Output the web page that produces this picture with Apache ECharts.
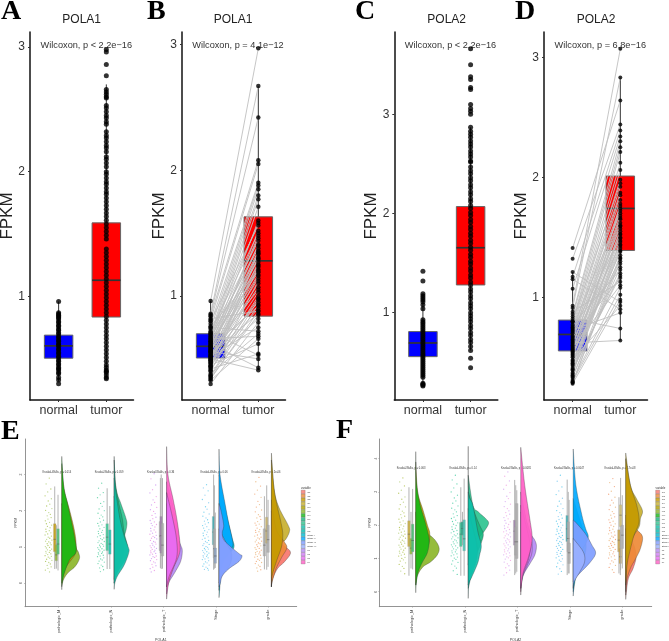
<!DOCTYPE html>
<html><head><meta charset="utf-8">
<style>html,body{margin:0;padding:0;background:#fff}#c{width:669px;height:641px}</style>
<script src="https://cdn.jsdelivr.net/npm/echarts@6/dist/echarts.min.js"></script>
</head><body><div id="c"></div>
<script>
const SANS='"Liberation Sans",Arial,sans-serif', SERIF='"Liberation Serif",serif';
const categories=['normal','tumor'];
const variables=['pathologic_M','pathologic_N','pathologic_T','Stage','grade'];
const levels=['G1','G2','G3','G4','M0','M1','MX','N0','N1','N2','N3','Stage I','Stage II','Stage III','Stage IV','T1','T2','T3','T4'];
const levelColors=['#F8766D','#EE8A37','#C49A00','#C8B030','#AFA100','#8CB62A','#16B816','#17B57E','#2EC490','#0FC0AA','#00BDB0','#00BBD0','#00A9FF','#7F9DFF','#9AB0FF','#B58BF5','#D07CF5','#E76BF3','#FF5FC6'];

// Panel A
const aNormalBox=[1,.32,.505,.604,.69,.96], aTumorBox=[2,.35,.835,1.13,1.59,2.7];
const aNormal=[.96,.87,.86,.85,.84,.83,.82,.8,.79,.77,.76,.74,.73,.71,.7,.68,.67,.65,.64,.62,.61,.6,.58,.57,.55,.54,.52,.51,.49,.48,.46,.45,.43,.42,.41,.39,.38,.35,.33,.3];
const aTumor=[2.98,2.96,2.86,2.77,2.66,2.64,2.62,2.6,2.59,2.53,2.51,2.48,2.45,2.43,2.4,2.38,2.32,2.29,2.27,2.24,2.21,2.19,2.16,2.12,2.1,2.07,2.04,2,1.98,1.95,1.92,1.9,1.87,1.84,1.82,1.79,1.76,1.73,1.7,1.67,1.64,1.61,1.58,1.55,1.52,1.49,1.46,1.38,1.35,1.32,1.29,1.26,1.23,1.2,1.17,1.14,1.11,1.08,1.05,1.02,.99,.96,.93,.9,.87,.84,.81,.78,.75,.72,.69,.66,.63,.6,.57,.54,.51,.48,.45,.43,.41,.4,.39,.37,.35,.34];
// Panel B
const bNormalBox=[1,.32,.507,.6,.7,.96], bTumorBox=[2,.41,.84,1.28,1.63,2.67];
const bNormal=[.96,.86,.85,.84,.82,.81,.8,.78,.76,.75,.74,.72,.71,.7,.69,.68,.67,.66,.65,.64,.63,.62,.61,.6,.6,.59,.58,.57,.56,.56,.55,.54,.53,.52,.52,.51,.5,.5,.49,.48,.47,.46,.45,.44,.43,.42,.4,.38,.36,.35,.33,.3,.7,.66,.64,.62,.6,.58,.57,.55,.53,.51,.49,.47,.44,.41,.37,.34];
const bTumor=[2.97,2.67,2.42,2.08,.88,2.05,1.56,1.9,1.2,.72,1.88,1.5,.53,1.85,1.44,1.8,1.38,.68,1.77,1.33,1.71,.43,1.29,1.25,1.6,.92,1.48,1.21,.5,1.17,1.41,.86,1.14,1.35,.75,1.1,1.07,.41,1.31,.82,1.03,1.27,.62,.98,1.23,.54,1.12,.7,.93,.85,.66,.79,1.58,1.4,1.19,1.46,1.3,1.36,1.05,1.52,.95,1.24,1.16,.9,1.34,1,.97,.88];
// Panel C
const cNormalBox=[1,.27,.557,.695,.81,1.19], cTumorBox=[2,.62,1.28,1.655,2.07,2.87];
const cNormal=[1.417,1.32,1.19,1.17,1.15,1.13,1.11,1.08,1.04,.93,.91,.89,.87,.85,.83,.81,.79,.77,.75,.73,.71,.69,.67,.65,.63,.61,.59,.57,.55,.53,.51,.49,.47,.45,.43,.41,.39,.37,.35,.29,.28,.27,.26];
const cTumor=[3.66,3.5,3.38,3.35,3.27,3.25,3.1,3.06,3.03,3,2.87,2.83,2.8,2.77,2.73,2.7,2.67,2.63,2.6,2.57,2.53,2.52,2.47,2.43,2.4,2.36,2.33,2.29,2.26,2.22,2.19,2.15,2.12,2.08,2.05,2.01,1.98,1.94,1.91,1.87,1.84,1.8,1.77,1.73,1.7,1.66,1.63,1.59,1.56,1.52,1.49,1.45,1.42,1.38,1.35,1.31,1.28,1.24,1.21,1.17,1.14,1.1,1.07,1.04,1,.97,.94,.91,.87,.84,.8,.77,.73,.7,.66,.62,.54,.445];
// Panel D
const dNormalBox=[1,.28,.553,.69,.81,1.21], dTumorBox=[2,.64,1.39,1.74,2.01,2.83];
const dNormal=[1.41,1.32,1.21,1.17,1.15,1.07,.93,.91,.88,.86,.84,.82,.8,.79,.77,.76,.74,.73,.71,.7,.68,.67,.65,.64,.62,.61,.6,.58,.57,.56,.55,.53,.52,.5,.48,.47,.45,.43,.41,.39,.37,.35,.33,.3,.29,.28,.8,.75,.72,.66,.63,.59,.56,.54,.51,.46,.44,.4,.36,.34,.31,.29];
const dTumor=[2.64,2.44,.96,2.39,.9,2.34,3.07,2.83,1.13,2.3,2.25,.74,2.21,2.12,1.23,2.06,1.98,.87,1.92,1.87,1.81,1.16,1.76,1.72,.64,1.68,1.66,1.1,1.62,1.59,1.55,1.32,1.52,1.49,.93,1.46,1.43,1.41,1.39,1.2,1.57,1.78,1.35,1.02,1.3,.98,1.95,1.7,1.5,1.85,1.44,1.74,1.6,1.28,1.65,1.38,1.53,1.18,1.47,1.25,1.08,1.33];

// Panels E and F: half-violin densities, [FPKM, density]
const eM1=[[2.2,0],[1.4,28],[1,42],[.85,50],[.68,53],[.46,40],[.28,18],[.09,5],[-.1,0]];
const eM0=[[3.3,0],[2.6,7],[2,24],[1.5,37],[1.1,43],[.8,40],[.4,10],[0,0]];
const eMX=[[3.5,0],[2.67,6],[2.21,17],[1.75,28],[1.29,38],[.87,43],[.65,24],[.28,8],[0,1],[-.18,0]];
const eN0=[[2.9,0],[2.2,14],[1.8,24],[1.4,30],[1,40],[.7,36],[.3,10],[0,0]];
const eN1=[[3.4,0],[2.6,6],[2.2,20],[1.8,35],[1.6,38],[1.3,30],[1,12],[.5,4],[.1,0]];
const eN2=[[3.5,0],[2.7,3],[2.2,10],[1.75,18],[1.3,30],[1,42],[.85,44],[.5,30],[.2,10],[0,2],[-.17,0]];
const eN3=[[2.4,0],[1.7,12],[1.2,26],[.8,28],[.4,10],[0,0]];
const eT1=[[2.2,0],[1.6,20],[1.1,40],[.9,47],[.6,42],[.3,25],[0,6],[-.3,0]];
const eT2=[[2.8,0],[2,22],[1.3,36],[.8,34],[.3,14],[0,3],[-.1,0]];
const eT3=[[2.5,0],[1.8,18],[1.2,30],[.7,30],[.2,8],[-.1,0]];
const eT4=[[3.77,0],[3,4],[2.3,20],[1.7,32],[1.1,40],[.8,38],[.4,20],[0,6],[-.44,0]];
const eS1=[[3,0],[2,20],[1.3,38],[1,45],[.8,30],[.5,10],[-.4,0]];
const eS2=[[3.7,0],[3,3],[2.2,18],[1.7,28],[1.2,40],[1,40],[.8,20],[.4,6],[-.2,0]];
const eS3=[[2.2,0],[2,6],[1.6,14],[1.4,10],[1.2,14],[1,36],[.8,62],[.75,69],[.6,60],[.4,30],[.2,10],[0,4],[-.1,0]];
const eS4=[[1.5,0],[1.1,22],[.8,38],[.5,32],[.2,8],[0,0]];
const eG1=[[2,0],[1.4,4],[1.1,28],[.86,57],[.6,40],[.4,18],[.1,3],[-.1,0]];
const eG2=[[2.3,0],[1.5,14],[1.15,38],[.97,46],[.7,30],[.4,14],[0,1],[-.1,0]];
const eG3=[[3.4,0],[2.6,8],[2.1,18],[1.7,28],[1.35,34],[1,30],[.6,15],[.2,2],[-.1,0]];
const eG4=[[3.59,0],[2.6,8],[2.1,22],[1.6,50],[1.43,54],[1.2,42],[1.05,24],[.7,10],[.3,4],[-.1,0]];

const fM1=[[2.4,0],[2,8],[1.75,36],[1.55,58],[1.31,70],[1.1,64],[.9,45],[.75,22],[.5,6],[.2,0]];
const fM0=[[3.9,0],[3,6],[2.45,22],[2,35],[1.75,42],[1.4,38],[1,20],[.6,5],[.2,0]];
const fMX=[[4.21,0],[3.3,2],[2.66,12],[2.1,28],[1.7,38],[1.45,40],[1.15,34],[.85,18],[.55,6],[.2,1],[-.03,0]];
const fN0=[[3,0],[2.4,18],[2,34],[1.75,45],[1.5,40],[1.1,24],[.7,10],[.2,0]];
const fN1=[[3.5,0],[2.6,14],[2.4,30],[2.2,52],[2.06,61],[1.85,50],[1.7,38],[1.5,20],[1.2,6],[.8,0]];
const fN2=[[4.37,0],[3,1],[2.6,14],[1.8,29],[1.4,39],[1.1,34],[.85,28],[.45,11],[.25,2],[-.2,0]];
const fN3=[[2.5,0],[1.9,14],[1.4,26],[1,26],[.5,10],[.1,0]];
const fT1=[[2.4,0],[1.8,26],[1.55,42],[1.36,47],[1.1,42],[.85,28],[.5,8],[.1,0]];
const fT2=[[3,0],[2.2,16],[1.7,30],[1.2,34],[.8,20],[.4,4],[0,0]];
const fT3=[[2.6,0],[1.9,18],[1.4,28],[1,24],[.5,6],[.1,0]];
const fT4=[[4.34,0],[3.2,12],[2.2,27],[1.7,34],[1.4,32],[1,22],[.6,8],[.2,2],[-.1,0]];
const fS1=[[2.8,0],[2,25],[1.5,38],[1.1,35],[.6,12],[0,0]];
const fS2=[[4.29,0],[3.2,8],[2.3,26],[1.9,37],[1.65,45],[1.4,35],[1.1,18],[.6,6],[0,1],[-.13,0]];
const fS3=[[2.15,0],[2.1,6],[1.75,36],[1.4,56],[1.16,67],[.9,52],[.6,24],[.4,5],[.3,0]];
const fS4=[[1.6,0],[1.2,30],[.9,34],[.6,20],[.3,3],[.1,0]];
const fG1=[[1.9,0],[1.4,24],[1.05,31],[.7,22],[.4,8],[0,2],[-.23,0]];
const fG2=[[2.3,0],[1.9,30],[1.66,50],[1.3,44],[1,30],[.7,14],[.3,2],[-.1,0]];
const fG3=[[4,0],[3.2,14],[2.6,33],[2.1,40],[1.7,25],[1.2,12],[.8,4],[.2,0]];
const fG4=[[4.17,0],[3.2,14],[2.8,32],[2.44,50],[2.2,44],[1.95,40],[1.6,20],[1.1,6],[.5,1],[0,0]];

// box records: x, low, q1, median, q3, high
const eBoxes=[[.924,.39,.87,1.21,1.64,2.67],[.955,.4,.62,.78,1.06,1.6],[.987,.35,.8,1.08,1.5,2.44],[1.924,.39,.9,1.27,1.64,2.62],[1.975,.39,.8,1.08,1.47,2.13],[2.94,.42,.9,1.3,1.7,2.9],[2.955,.39,.83,1.31,1.84,3],[2.98,.4,.75,1.05,1.65,2.9],[3.955,.37,1.06,1.41,1.84,3],[3.97,.4,.7,.95,1.5,2.7],[3.987,.42,.55,.75,.97,1.95],[4.924,.38,.75,1.05,1.5,2.4],[4.968,.37,1.1,1.44,1.82,2.7],[4.994,.45,.85,1.2,1.6,2.3]];
const fBoxes=[[.936,.48,1.36,1.73,2.13,3.14],[.975,.7,1.13,1.31,1.6,2.4],[1.006,.67,1.2,1.54,2.03,3.09],[1.924,.48,1.36,1.73,2.08,3.14],[1.955,1.4,1.7,1.9,2.1,2.4],[1.987,.48,1.23,1.59,2.16,3.4],[2.95,.5,1.4,1.82,2.15,3.36],[2.97,.55,1.1,1.5,1.95,3.2],[2.99,.6,1,1.5,2.65,3.05],[3.95,.5,1.51,1.89,2.29,3.37],[3.97,.55,1.2,1.6,2.1,3],[3.987,.55,.85,1.17,1.46,2.76],[4.936,.55,1.2,1.55,1.86,2.84],[4.962,.5,.85,1.05,1.3,1.8],[4.968,.65,1.96,2.3,2.61,3.42],[5,.7,1.3,1.7,2,2.9]];
const eBoxColors=['#C49A00','#8CB62A','#3DBB6A','#2EC490','#0FC0AA','#aaa','#9a7aa8','#aaa','#2AA9B0','#aaa','#8aa0c0','#aaa','#C8B060','#aaa'];
const fBoxColors=['#C4A830','#8CB62A','#3DBB6A','#2EC490','#17A080','#3FC0B0','#9a7aa8','#aaa','#aaa','#2AA9B0','#aaa','#aaa','#C8A040','#C8A040','#D0C070','#aaa'];

// jittered raw points per variable
const jitterOffsets=[-.18,-.24,-.15,-.21,-.26,-.14,-.2,-.17,-.23,-.13,-.25,-.19,-.16,-.22,-.145,-.205,-.255,-.175,-.235,-.135,-.215,-.165,-.245];
const eDots1=[2.9,2.74,2.6,2.52,2.41,2.33,2.27,2.18,2.13,2.06,2.01,1.95,1.9,1.86,1.81,1.77,1.72,1.68,1.64,1.6,1.57,1.53,1.49,1.45,1.42,1.39,1.36,1.33,1.3,1.27,1.24,1.21,1.19,1.16,1.14,1.11,1.09,1.06,1.04,1.01,.99,.97,.94,.92,.9,.88,.85,.83,.81,.79,.76,.74,.72,.69,.66,.63,.6,.57,.53,.49,.45,.41,.36,.31];
const eDots2=[2.76,2.62,2.5,2.44,2.36,2.25,2.2,2.12,2.05,2,1.93,1.88,1.83,1.79,1.74,1.69,1.65,1.61,1.58,1.54,1.5,1.46,1.43,1.4,1.37,1.34,1.31,1.28,1.25,1.23,1.2,1.17,1.15,1.12,1.1,1.07,1.05,1.02,1,.98,.95,.93,.91,.89,.86,.84,.82,.8,.77,.75,.73,.7,.67,.64,.61,.58,.54,.5,.46,.42,.37,.32];
const eDots3=[3.02,2.88,2.71,2.58,2.49,2.39,2.3,2.23,2.16,2.09,2.03,1.98,1.92,1.87,1.82,1.78,1.73,1.69,1.65,1.62,1.59,1.55,1.51,1.47,1.44,1.41,1.38,1.35,1.32,1.29,1.26,1.24,1.22,1.18,1.15,1.13,1.1,1.08,1.05,1.03,1,.98,.96,.93,.91,.89,.87,.84,.82,.8,.78,.75,.73,.71,.68,.65,.62,.59,.56,.52,.48,.44,.4,.35,.31];
const eDots4=[2.72,2.63,2.55,2.43,2.31,2.22,2.11,2.04,1.96,1.91,1.85,1.8,1.75,1.71,1.67,1.63,1.59,1.56,1.52,1.48,1.45,1.41,1.38,1.34,1.31,1.28,1.24,1.21,1.18,1.15,1.12,1.09,1.07,1.04,1.01,.99,.96,.94,.92,.9,.87,.85,.83,.81,.78,.76,.74,.72,.7,.67,.65,.62,.59,.56,.53,.5,.47,.44,.41,.38,.36];
const eDots5=[2.92,2.8,2.68,2.57,2.46,2.37,2.26,2.17,2.1,2.02,1.97,1.89,1.84,1.8,1.76,1.7,1.66,1.63,1.6,1.56,1.52,1.48,1.46,1.42,1.4,1.36,1.33,1.3,1.27,1.25,1.22,1.19,1.16,1.14,1.11,1.09,1.06,1.03,1.01,.98,.96,.93,.91,.88,.86,.84,.81,.79,.77,.74,.72,.69,.66,.63,.6,.57,.54,.5,.46,.42,.37,.33];
const fDots1=[3.42,3.3,3.18,3.05,2.96,2.85,2.78,2.69,2.62,2.55,2.49,2.42,2.37,2.32,2.27,2.22,2.18,2.13,2.09,2.05,2.01,1.97,1.93,1.89,1.86,1.82,1.79,1.76,1.73,1.7,1.67,1.64,1.61,1.58,1.55,1.52,1.49,1.46,1.43,1.4,1.37,1.34,1.31,1.28,1.25,1.22,1.19,1.16,1.13,1.1,1.07,1.03,1,.96,.92,.87,.82,.76,.7,.62,.54];
const fDots2=[3.5,3.36,3.24,3.12,3,2.9,2.82,2.73,2.66,2.58,2.51,2.46,2.4,2.34,2.29,2.24,2.2,2.15,2.11,2.07,2.03,1.99,1.95,1.91,1.87,1.84,1.81,1.77,1.74,1.71,1.68,1.65,1.62,1.59,1.56,1.53,1.5,1.47,1.44,1.41,1.38,1.35,1.32,1.29,1.26,1.23,1.2,1.17,1.14,1.11,1.08,1.04,1.01,.97,.93,.88,.83,.77,.71,.63,.52];
const fDots3=[3.6,3.47,3.33,3.2,3.08,2.98,2.87,2.8,2.71,2.63,2.56,2.5,2.43,2.38,2.33,2.28,2.23,2.19,2.14,2.1,2.06,2.02,1.98,1.94,1.9,1.87,1.83,1.8,1.77,1.74,1.71,1.68,1.65,1.62,1.59,1.56,1.53,1.5,1.47,1.44,1.41,1.38,1.35,1.32,1.29,1.26,1.23,1.2,1.17,1.14,1.11,1.08,1.05,1.02,.98,.94,.89,.84,.78,.72,.65,.57,.5];
const fDots4=[3.5,3.32,3.15,3.03,2.92,2.81,2.72,2.64,2.57,2.5,2.44,2.38,2.31,2.26,2.21,2.17,2.12,2.08,2.04,2,1.96,1.92,1.88,1.85,1.82,1.78,1.75,1.72,1.69,1.66,1.63,1.6,1.57,1.54,1.51,1.48,1.45,1.42,1.39,1.36,1.33,1.3,1.27,1.24,1.21,1.18,1.15,1.12,1.09,1.06,1.02,.99,.95,.91,.86,.81,.75,.69,.61,.53];
const fDots5=[3.4,3.28,3.16,3.02,2.93,2.84,2.75,2.67,2.6,2.54,2.47,2.41,2.35,2.3,2.25,2.21,2.16,2.12,2.08,2.04,2,1.96,1.92,1.88,1.84,1.8,1.77,1.74,1.7,1.67,1.64,1.6,1.57,1.54,1.51,1.48,1.45,1.42,1.39,1.36,1.33,1.3,1.27,1.24,1.2,1.17,1.14,1.11,1.08,1.05,1.01,.97,.93,.89,.84,.79,.73,.66,.58];
const eDotColors=[['#9dbb3a','#a8c96a'],['#3cc890','#5fd0a8'],['#c88cf0','#e88ce0'],['#4fc4ea','#7cc8f0'],['#f09a60','#e8b070']];
const fDotColors=[['#a8bb3a','#b0cc70'],['#30c898','#50d0a8'],['#d09cf0','#f09ce0'],['#40c0e8','#70c4f0'],['#f09060','#e8b070']];

const titles=[['POLA1',81.7],['POLA1',233],['POLA2',446.7],['POLA2',596]];
const pvalues=['Wilcoxon, p < 2.2e\u221216','Wilcoxon, p = 4.1e\u221212','Wilcoxon, p < 2.2e\u221216','Wilcoxon, p = 6.8e\u221216'];
const letters=[['A',1,12],['B',147,12],['C',355,12],['D',515,12],['E',1,432],['F',336,431]];
const ePvalues=['Kruskal-Wallis, p = 0.014','Kruskal-Wallis, p = 0.059','Kruskal-Wallis, p = 0.36','Kruskal-Wallis, p = 0.06','Kruskal-Wallis, p = 2e-06'];
const fPvalues=['Kruskal-Wallis, p = 0.063','Kruskal-Wallis, p = 0.14','Kruskal-Wallis, p = 0.0081','Kruskal-Wallis, p = 0.0047','Kruskal-Wallis, p = 1.7e-08'];

const grids=[],xAxes=[],yAxes=[],series=[],graphics=[];
function addText(text,x,y,font,fill,align){graphics.push({type:'text',x,y,silent:true,style:{text,font,fill:fill||'#333',align:align||'center',verticalAlign:'middle'}});}
function boxRenderer(width,opt){return (p,api)=>{
  const x=api.value(0),pt=v=>api.coord([x,v]);
  const cx=pt(0)[0],lo=pt(api.value(1))[1],q1=pt(api.value(2))[1],md=pt(api.value(3))[1],q3=pt(api.value(4))[1],hi=pt(api.value(5))[1];
  const fill=opt.colors[p.dataIndex];
  return {type:'group',children:[
    {type:'line',shape:{x1:cx,y1:lo,x2:cx,y2:hi},style:{stroke:opt.whisker,lineWidth:opt.whiskerWidth}},
    {type:'rect',shape:{x:cx-width/2,y:q3,width,height:q1-q3},style:{fill,stroke:opt.border,lineWidth:opt.borderWidth,opacity:opt.opacity}},
    {type:'line',shape:{x1:cx-width/2,y1:md,x2:cx+width/2,y2:md},style:{stroke:opt.median,lineWidth:opt.medianWidth}}]};
};}
// render-time outline smoothing through the read density points
function smoothOutline(pts,minX){
  const out=[pts[0].slice()];
  for(let i=0;i<pts.length-1;i++){
    const a=pts[Math.max(i-1,0)],b=pts[i],c=pts[i+1],d=pts[Math.min(i+2,pts.length-1)];
    for(let s=1;s<=6;s++){const t=s/6,t2=t*t,t3=t2*t;
      const cr=k=>.5*(2*b[k]+(c[k]-a[k])*t+(2*a[k]-5*b[k]+4*c[k]-d[k])*t2+(3*b[k]-a[k]-3*c[k]+d[k])*t3);
      out.push([Math.max(cr(0),minX),cr(1)]);}
  }
  return out;
}
function topPanel(i,left,ymin,ymax,ticks,boxes,normal,tumor,pairs,dotSize){
  grids.push({left,top:32,width:103.5,height:368,outerBoundsMode:'none'});
  xAxes.push({type:'value',gridIndex:i,min:.4,max:2.57,splitLine:{show:false},
    axisLine:{show:true,onZero:false,lineStyle:{color:'#111',width:1.5}},
    axisTick:{show:true,length:2,customValues:[1,2],lineStyle:{color:'#333'}},
    axisLabel:{customValues:[1,2],formatter:v=>categories[v-1],fontFamily:SANS,fontSize:12.5,color:'#333',margin:4}});
  yAxes.push({type:'value',gridIndex:i,min:ymin,max:ymax,splitLine:{show:false},name:'FPKM',nameLocation:'middle',nameGap:14,nameMoveOverlap:false,
    nameTextStyle:{fontFamily:SANS,fontSize:17,color:'#222'},
    axisLine:{show:true,onZero:false,lineStyle:{color:'#111',width:1.5}},
    axisTick:{show:true,length:2,customValues:ticks,lineStyle:{color:'#333'}},
    axisLabel:{customValues:ticks,fontFamily:SANS,fontSize:12,color:'#333',margin:5}});
  series.push({type:'custom',xAxisIndex:i,yAxisIndex:i,z:2,silent:true,data:boxes,
    renderItem:boxRenderer(28.5,{colors:['#0000ff','#ff0000'],whisker:'#333',whiskerWidth:1,border:'#666',borderWidth:1,opacity:1,median:'#333',medianWidth:1.7})});
  if(pairs) series.push({type:'custom',xAxisIndex:i,yAxisIndex:i,z:3,silent:true,
    data:normal.map((n,k)=>[n,tumor[k]]),
    renderItem:(p,api)=>{const a=api.coord([1,api.value(0)]),b=api.coord([2,api.value(1)]);
      return {type:'line',shape:{x1:a[0],y1:a[1],x2:b[0],y2:b[1]},style:{stroke:'#bfbfbf',lineWidth:.9}};}});
  [[1,normal],[2,tumor]].forEach(([x,vals])=>series.push({type:'scatter',xAxisIndex:i,yAxisIndex:i,z:4,silent:true,symbolSize:dotSize,
    data:vals.map(v=>[x,v]),itemStyle:{color:'#000'}}));
}
function rainPanel(i,left,width,xmin,xmax,ymin,ymax,ticks,name,off,layers,boxes,boxColors,dots,dotColors,scale){
  grids.push({left,top:439,width,height:167.7,outerBoundsMode:'none'});
  const cfg={color:'#444',fontFamily:SANS};
  xAxes.push({type:'value',gridIndex:i,min:xmin,max:xmax,splitLine:{show:false},name,nameLocation:'middle',nameGap:31,nameMoveOverlap:false,
    nameTextStyle:{...cfg,fontSize:3.6},axisLine:{show:true,onZero:false,lineStyle:{color:'#888',width:.9}},
    axisTick:{show:true,length:1,customValues:[1,2,3,4,5],lineStyle:{color:'#888',width:.5}},
    axisLabel:{customValues:[1,2,3,4,5],formatter:v=>variables[v-1],rotate:90,fontSize:3.9,color:'#444',fontFamily:SANS,margin:3}});
  yAxes.push({type:'value',gridIndex:i,min:ymin,max:ymax,splitLine:{show:false},name:'FPKM',nameLocation:'middle',nameGap:7,nameMoveOverlap:false,
    nameTextStyle:{...cfg,fontSize:3.6},axisLine:{show:true,onZero:false,lineStyle:{color:'#888',width:.9}},
    axisTick:{show:true,length:1,customValues:ticks,lineStyle:{color:'#888',width:.5}},
    axisLabel:{customValues:ticks,rotate:90,fontSize:3.4,color:'#555',fontFamily:SANS,margin:2}});
  dots.forEach((vals,g)=>series.push({type:'scatter',xAxisIndex:i,yAxisIndex:i,z:2,silent:true,symbolSize:1.3,
    data:vals.map((v,k)=>[g+1+jitterOffsets[k%jitterOffsets.length],v]),
    itemStyle:{opacity:.75,color:p=>dotColors[g][p.dataIndex%2]}}));
  series.push({type:'custom',xAxisIndex:i,yAxisIndex:i,z:3,silent:true,data:boxes,
    renderItem:(p,api)=>boxRenderer(2.6,{colors:boxColors,whisker:'#aaa',whiskerWidth:.9,border:'#999',borderWidth:.3,opacity:.8,median:'#555',medianWidth:.5})(p,api)});
  layers.forEach(([g,lv,pts],k)=>series.push({type:'custom',name:lv,xAxisIndex:i,yAxisIndex:i,z:5+k*.01,silent:true,data:[[g,0]],
    itemStyle:{color:levelColors[levels.indexOf(lv)]},
    renderItem:(p,api)=>{
      const base=g+off, minX=api.coord([base,0])[0];
      const line=smoothOutline(pts.map(([v,w])=>api.coord([base+w*scale,v])),minX);
      return {type:'polygon',shape:{points:line},style:{fill:api.visual('color'),opacity:.92,stroke:'#333',lineWidth:.35}};
    }}));
}
topPanel(0,30,.17,3.12,[1,2,3],[aNormalBox,aTumorBox],aNormal,aTumor,false,5);
topPanel(1,182,.173,3.1,[1,2,3],[bNormalBox,bTumorBox],bNormal,bTumor,true,4.5);
topPanel(2,394.3,.12,3.83,[1,2,3],[cNormalBox,cTumorBox],cNormal,cTumor,false,5);
topPanel(3,544,.144,3.21,[1,2,3],[dNormalBox,dTumorBox],dNormal,dTumor,true,4);
rainPanel(4,25,271.7,.357,5.54,-.65,3.98,[0,1,2,3],'POLA1',.058,
 [[1,'M1',eM1],[1,'M0',eM0],[1,'MX',eMX],[2,'N1',eN1],[2,'N3',eN3],[2,'N0',eN0],[2,'N2',eN2],
  [3,'T1',eT1],[3,'T2',eT2],[3,'T4',eT4],[3,'T3',eT3],[4,'Stage I',eS1],[4,'Stage II',eS2],[4,'Stage IV',eS4],[4,'Stage III',eS3],
  [5,'G4',eG4],[5,'G1',eG1],[5,'G2',eG2],[5,'G3',eG3]],
 eBoxes,eBoxColors,[eDots1,eDots2,eDots3,eDots4,eDots5],eDotColors,1/157);
rainPanel(5,379.3,272.4,.371,5.56,-.45,4.59,[0,1,2,3,4],'POLA2',.065,
 [[1,'M1',fM1],[1,'M0',fM0],[1,'MX',fMX],[2,'N1',fN1],[2,'N0',fN0],[2,'N3',fN3],[2,'N2',fN2],
  [3,'T1',fT1],[3,'T2',fT2],[3,'T3',fT3],[3,'T4',fT4],[4,'Stage I',fS1],[4,'Stage II',fS2],[4,'Stage III',fS3],[4,'Stage IV',fS4],
  [5,'G1',fG1],[5,'G2',fG2],[5,'G4',fG4],[5,'G3',fG3]],
 fBoxes,fBoxColors,[fDots1,fDots2,fDots3,fDots4,fDots5],fDotColors,1/157);

titles.forEach(([t,x])=>addText(t,x,20,'12px '+SANS,'#222'));
[86.3,238,450.5,600.3].forEach((x,k)=>addText(pvalues[k],x,45,'9.2px '+SANS));
letters.forEach(([t,x,y])=>addText(t,x,y,'bold 28px '+SERIF,'#000','left'));
[56.8,109,160.7,214,266].forEach((x,k)=>addText(ePvalues[k],x,472.7,'2.6px '+SANS));
[411,463,516,569,620].forEach((x,k)=>addText(fPvalues[k],x,468.3,'2.6px '+SANS));
addText('variable',301,488,'2.8px '+SANS,'#333','left');
addText('variable',655.5,488,'2.8px '+SANS,'#333','left');

const legendBase={orient:'vertical',data:levels,selectedMode:false,top:490,itemWidth:4,itemHeight:3.6,itemGap:0,padding:0,icon:'rect',
  itemStyle:{opacity:.8,borderColor:'#555',borderWidth:.3},
  textStyle:{fontSize:2.4,color:'#444',fontFamily:SANS,padding:[0,0,0,-3],lineHeight:3.6,height:3.6}};
const chart=echarts.init(document.getElementById('c'),null,{renderer:'canvas'});
chart.setOption({animation:false,backgroundColor:'#fff',grid:grids,xAxis:xAxes,yAxis:yAxes,series,graphic:graphics,
  legend:[{...legendBase,left:301},{...legendBase,left:655.5}]});
</script></body></html>
